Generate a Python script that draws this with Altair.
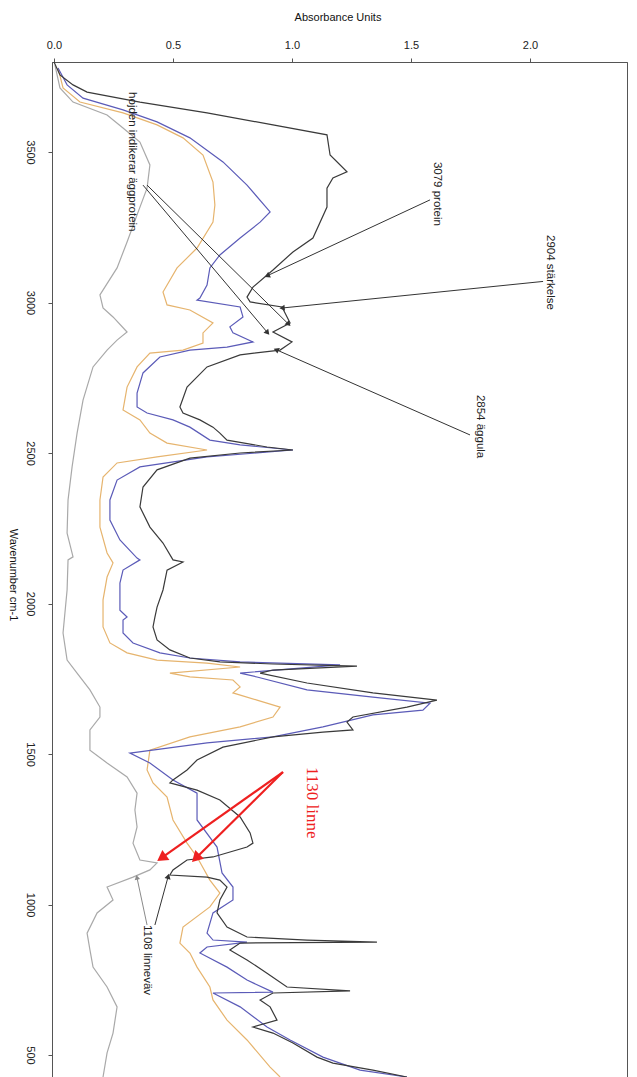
import math
import altair as alt
import pandas as pd

# ---- spectra: wavenumber (cm-1) and absorbance for each sample ----
black_wn = [3799, 3756, 3723, 3699, 3666, 3630, 3590, 3557, 3490, 3434, 3414, 3380, 3317, 3214,
            3168, 3108, 3051, 3018, 3002, 2985, 2932, 2902, 2869, 2842, 2826, 2786, 2719, 2653,
            2633, 2610, 2586, 2566, 2543, 2520, 2510, 2500, 2483, 2444, 2387, 2321, 2254, 2201,
            2145, 2138, 2111, 2045, 1988, 1955, 1922, 1879, 1846, 1819, 1806, 1799, 1792, 1779,
            1769, 1736, 1703, 1679, 1656, 1623, 1606, 1580, 1573, 1557, 1523, 1480, 1447, 1414,
            1404, 1380, 1347, 1291, 1238, 1204, 1191, 1158, 1148, 1115, 1098, 1091, 1081, 1058,
            1015, 972, 925, 892, 882, 875, 872, 849, 816, 772, 726, 713, 706, 683, 660, 616, 593,
            573, 540, 493, 473, 450, 427]
black_ab = [0.00, 0.025, 0.080, 0.139, 0.361, 0.643, 0.920, 1.147, 1.160, 1.231, 1.172, 1.147,
            1.147, 1.088, 1.004, 0.920, 0.836, 0.811, 0.824, 0.958, 0.992, 0.920, 1.000, 0.950,
            0.782, 0.643, 0.559, 0.529, 0.542, 0.613, 0.668, 0.697, 0.727, 0.895, 1.004, 0.782,
            0.571, 0.433, 0.374, 0.361, 0.403, 0.458, 0.500, 0.542, 0.475, 0.458, 0.433, 0.424,
            0.416, 0.433, 0.487, 0.571, 0.697, 0.920, 1.273, 0.920, 0.866, 1.063, 1.340, 1.609,
            1.483, 1.256, 1.231, 1.256, 1.130, 0.920, 0.710, 0.601, 0.559, 0.500, 0.487, 0.601,
            0.697, 0.782, 0.824, 0.836, 0.811, 0.668, 0.559, 0.500, 0.487, 0.643, 0.697, 0.727,
            0.697, 0.685, 0.727, 0.811, 1.063, 1.357, 0.782, 0.739, 0.811, 0.895, 0.979, 1.244,
            0.920, 0.866, 0.908, 0.937, 0.836, 0.920, 1.004, 1.105, 1.172, 1.340, 1.483]

blue_wn = [3779, 3723, 3679, 3640, 3600, 3547, 3467, 3390, 3301, 3267, 3214, 3158, 3115, 3058,
           3015, 3008, 2985, 2952, 2919, 2899, 2869, 2852, 2842, 2819, 2766, 2699, 2653, 2633,
           2610, 2586, 2543, 2527, 2510, 2487, 2454, 2410, 2344, 2277, 2211, 2151, 2145, 2111,
           2068, 1978, 1955, 1945, 1902, 1869, 1836, 1819, 1806, 1796, 1769, 1756, 1713, 1689,
           1669, 1646, 1630, 1590, 1557, 1537, 1503, 1470, 1414, 1370, 1324, 1281, 1191, 1105,
           1058, 1015, 972, 905, 882, 875, 859, 839, 792, 749, 709, 706, 660, 593, 550, 493,
           450, 427]
blue_ab = [0.017, 0.055, 0.122, 0.290, 0.433, 0.571, 0.710, 0.811, 0.908, 0.866, 0.782, 0.697,
           0.655, 0.643, 0.613, 0.601, 0.782, 0.794, 0.739, 0.752, 0.836, 0.727, 0.571, 0.445,
           0.374, 0.349, 0.349, 0.391, 0.500, 0.571, 0.655, 0.782, 1.004, 0.643, 0.361, 0.265,
           0.235, 0.235, 0.277, 0.349, 0.361, 0.290, 0.277, 0.277, 0.307, 0.290, 0.290, 0.332,
           0.445, 0.571, 0.782, 1.202, 0.782, 0.853, 1.063, 1.340, 1.580, 1.550, 1.340, 1.130,
           0.920, 0.643, 0.319, 0.403, 0.500, 0.601, 0.601, 0.601, 0.685, 0.706, 0.752, 0.752,
           0.668, 0.643, 0.668, 0.811, 0.643, 0.613, 0.727, 0.811, 0.920, 0.668, 0.782, 0.895,
           0.992, 1.130, 1.286, 1.483]

orange_wn = [3779, 3713, 3666, 3630, 3590, 3547, 3490, 3400, 3324, 3267, 3181, 3115, 3035,
             2992, 2975, 2932, 2899, 2865, 2842, 2832, 2786, 2719, 2643, 2610, 2566, 2533, 2510,
             2487, 2467, 2420, 2344, 2254, 2168, 2135, 2088, 2012, 1922, 1869, 1836, 1812, 1802,
             1789, 1769, 1756, 1746, 1723, 1703, 1679, 1656, 1623, 1590, 1557, 1513, 1447, 1404,
             1357, 1281, 1204, 1158, 1081, 1038, 992, 925, 872, 839, 792, 726, 683, 616, 550,
             460, 427]
orange_ab = [0.017, 0.038, 0.109, 0.290, 0.433, 0.542, 0.626, 0.668, 0.676, 0.668, 0.601, 0.517,
             0.458, 0.475, 0.571, 0.668, 0.626, 0.626, 0.542, 0.403, 0.349, 0.307, 0.290, 0.361,
             0.403, 0.475, 0.643, 0.433, 0.265, 0.206, 0.193, 0.193, 0.223, 0.248, 0.223, 0.206,
             0.206, 0.235, 0.307, 0.433, 0.643, 0.782, 0.487, 0.571, 0.752, 0.782, 0.752, 0.853,
             0.950, 0.920, 0.782, 0.571, 0.403, 0.391, 0.416, 0.475, 0.500, 0.559, 0.601, 0.655,
             0.697, 0.655, 0.542, 0.529, 0.571, 0.601, 0.655, 0.668, 0.727, 0.811, 0.908, 0.950]

gray_wn = [3789, 3713, 3666, 3623, 3580, 3533, 3457, 3380, 3291, 3201, 3115, 3025, 2982, 2952,
           2902, 2875, 2842, 2786, 2676, 2566, 2454, 2344, 2234, 2155, 2145, 2045, 1902, 1812,
           1756, 1713, 1656, 1623, 1580, 1513, 1470, 1424, 1370, 1314, 1258, 1204, 1148, 1138,
           1115, 1091, 1058, 1015, 972, 905, 849, 792, 726, 660, 573, 507, 427]
gray_ab = [0.004, 0.025, 0.080, 0.223, 0.290, 0.361, 0.403, 0.391, 0.349, 0.307, 0.265, 0.193,
           0.206, 0.248, 0.307, 0.265, 0.223, 0.164, 0.122, 0.097, 0.076, 0.059, 0.055, 0.080,
           0.059, 0.055, 0.038, 0.055, 0.109, 0.151, 0.193, 0.193, 0.151, 0.151, 0.223, 0.307,
           0.349, 0.340, 0.349, 0.332, 0.361, 0.433, 0.403, 0.332, 0.223, 0.248, 0.181, 0.139,
           0.151, 0.164, 0.223, 0.265, 0.248, 0.223, 0.206]

series = [
    ("gray", gray_wn, gray_ab, "#a9a9a9"),
    ("orange", orange_wn, orange_ab, "#e6b46e"),
    ("blue", blue_wn, blue_ab, "#5b5bb8"),
    ("black", black_wn, black_ab, "#3a3a3a"),
]

# ---- annotations ----
label_text = ["hojden indikerar äggprotein", "3079 protein", "2904 stärkelse",
              "2854 äggula", "1108 linneväv"]
label_ab = [0.328, 1.609, 2.084, 1.790, 0.391]
label_wn = [3699, 3467, 3224, 2693, 932]

red_text = ["1130 linne"]
red_ab = [1.084]
red_wn = [1457]

# arrows: start (ab, wn) -> end (ab, wn), colour, line width, head size
arrow_ab0 = [1.580, 2.055, 1.748, 0.374, 0.391, 0.391, 0.424, 0.962, 0.962]
arrow_wn0 = [3341, 3070, 2560, 3390, 3390, 932, 932, 1440, 1440]
arrow_ab1 = [0.899, 0.962, 0.937, 0.895, 0.983, 0.349, 0.479, 0.458, 0.601]
arrow_wn1 = [3090, 2982, 2842, 2902, 2930, 1088, 1091, 1158, 1158]
arrow_col = ["#333333"] * 5 + ["#8a8a8a", "#333333", "#ee2020", "#ee2020"]
arrow_w = [1, 1, 1, 1, 1, 1, 1, 2.2, 2.2]
arrow_head = [38, 38, 38, 38, 38, 30, 38, 150, 150]

# ---- layout ----
W, H = 575, 1015
X_MIN, X_MAX = -0.0084, 2.4076
Y_MIN, Y_MAX = 427, 3799

rows = []
for name, wn, ab, col in series:
    for i, (w, a) in enumerate(zip(wn, ab)):
        rows.append({"s": name, "i": i, "wn": w, "ab": a, "c": col})
spec_df = pd.DataFrame(rows)

# arrowhead rotation follows the on-screen direction of each arrow
sx = W / (X_MAX - X_MIN)
sy = H / (Y_MAX - Y_MIN)
seg_rows = []
for a0, w0, a1, w1, c, sw, hs in zip(arrow_ab0, arrow_wn0, arrow_ab1, arrow_wn1,
                                     arrow_col, arrow_w, arrow_head):
    dx = (a1 - a0) * sx
    dy = -(w1 - w0) * sy
    ang = math.degrees(math.atan2(dx, -dy)) % 360
    seg_rows.append({"a0": a0, "w0": w0, "a1": a1, "w1": w1, "c": c, "sw": sw,
                     "ang": ang, "hs": hs})
seg_df = pd.DataFrame(seg_rows)

xscale = alt.Scale(domain=[X_MIN, X_MAX], nice=False, zero=False)
yscale = alt.Scale(domain=[Y_MIN, Y_MAX], nice=False, zero=False)

x_enc = alt.X("ab:Q", scale=xscale, axis=alt.Axis(
    orient="top", values=[0, 0.5, 1.0, 1.5, 2.0], format=".1f",
    title="Absorbance Units", titleFontSize=11, titleFontWeight="normal",
    titleX=W / 2 - 2, titleY=-45, titleBaseline="middle", titleColor="#111",
    labelFontSize=11, labelColor="#222", labelPadding=8, tickSize=4,
    grid=False, domainColor="#555", tickColor="#555"))
y_enc = alt.Y("wn:Q", scale=yscale, axis=alt.Axis(
    orient="left", values=[3500, 3000, 2500, 2000, 1500, 1000, 500], format="d",
    labelAngle=90, labelAlign="center", labelBaseline="top", labelPadding=13,
    labelFontSize=11, labelColor="#222", tickSize=4, grid=False,
    title="Wavenumber cm-1", titleAngle=90, titleFontSize=11, titleFontWeight="normal",
    titleX=-40, titleY=H / 2 + 5, titleAlign="center", titleBaseline="middle",
    titleColor="#111", domainColor="#555", tickColor="#555"))

lines = alt.Chart(spec_df).mark_line(strokeWidth=1.2, clip=True).encode(
    x=x_enc, y=y_enc,
    color=alt.Color("c:N", scale=None),
    detail="s:N",
    order=alt.Order("i:Q"),
)

segs = alt.Chart(seg_df).mark_rule().encode(
    x=alt.X("a0:Q", scale=xscale), y=alt.Y("w0:Q", scale=yscale),
    x2="a1:Q", y2="w1:Q",
    color=alt.Color("c:N", scale=None),
    strokeWidth=alt.StrokeWidth("sw:Q", scale=None),
)

heads = alt.Chart(seg_df).mark_point(shape="triangle", filled=True, opacity=1).encode(
    x=alt.X("a1:Q", scale=xscale), y=alt.Y("w1:Q", scale=yscale),
    angle=alt.Angle("ang:Q", scale=None),
    size=alt.Size("hs:Q", scale=None),
    color=alt.Color("c:N", scale=None),
)

lab_df = pd.DataFrame({"t": label_text, "ab": label_ab, "wn": label_wn})
labels = alt.Chart(lab_df).mark_text(
    angle=90, align="left", baseline="middle", fontSize=11.5,
    font="Liberation Sans", color="#222"
).encode(x=alt.X("ab:Q", scale=xscale), y=alt.Y("wn:Q", scale=yscale), text="t:N")

red_df = pd.DataFrame({"t": red_text, "ab": red_ab, "wn": red_wn})
red_labels = alt.Chart(red_df).mark_text(
    angle=90, align="left", baseline="middle", fontSize=17,
    font="Liberation Serif", color="#ee2020"
).encode(x=alt.X("ab:Q", scale=xscale), y=alt.Y("wn:Q", scale=yscale), text="t:N")

chart = alt.layer(lines, segs, heads, labels, red_labels).properties(
    width=W, height=H,
    autosize=alt.AutoSizeParams(type="none"),
    padding={"left": 52, "top": 62, "right": 10, "bottom": 0},
    background="white",
).configure_view(stroke="#555", strokeWidth=1).configure_axis(
    labelFont="Liberation Sans", titleFont="Liberation Sans")

chart.save("out.html", embed_options={"renderer": "svg", "actions": False})
